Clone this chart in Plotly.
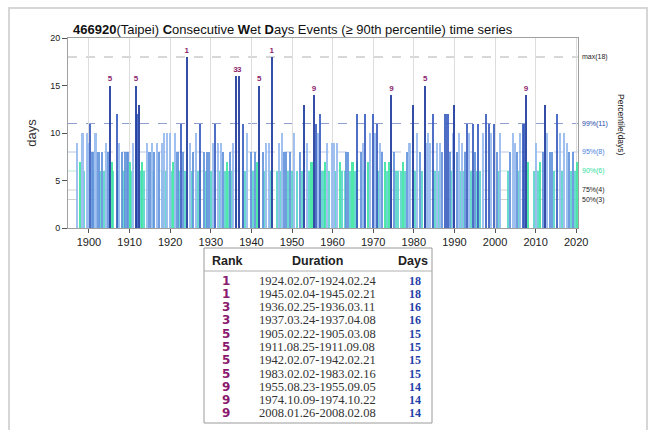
import plotly.graph_objects as go

# ---------------- data ----------------
event_year = [
    1897.1, 1897.9, 1898.4, 1898.8, 1899.4, 1899.8, 1900.2, 1900.7, 1900.9, 1901.1,
    1901.6, 1901.9, 1902.5, 1902.8, 1903.1, 1903.6, 1904.1, 1904.8, 1905.2, 1905.7,
    1905.9, 1906.8, 1907.1, 1907.5, 1908.2, 1908.5, 1908.9, 1909.3, 1909.7, 1910.1,
    1910.4, 1910.9, 1911.6, 1911.9, 1912.4, 1912.9, 1913.0, 1913.6, 1914.4, 1914.9,
    1915.4, 1915.8, 1916.1, 1916.7, 1917.3, 1917.9, 1918.1, 1918.5, 1919.0, 1919.3,
    1920.0, 1920.3, 1920.6, 1921.2, 1921.8, 1922.2, 1922.6, 1923.1, 1923.6, 1924.1,
    1924.9, 1925.3, 1925.7, 1926.4, 1926.9, 1927.3, 1928.3, 1928.7, 1929.0, 1929.6,
    1930.0, 1930.5, 1931.1, 1931.8, 1932.2, 1932.5, 1933.1, 1933.5, 1934.0, 1934.4,
    1934.8, 1935.1, 1935.5, 1936.1, 1937.0, 1938.0, 1938.4, 1939.0, 1939.8, 1940.3,
    1940.9, 1941.3, 1941.9, 1942.9, 1943.2, 1943.6, 1944.3, 1944.6, 1945.0, 1946.2,
    1946.9, 1947.1, 1947.5, 1948.0, 1948.5, 1949.1, 1949.5, 1950.1, 1950.6, 1951.3,
    1952.0, 1952.5, 1953.0, 1953.8, 1954.3, 1954.8, 1955.4, 1955.9, 1956.5, 1956.9,
    1957.3, 1957.8, 1958.1, 1958.7, 1959.2, 1959.8, 1960.3, 1960.7, 1961.0, 1961.8,
    1962.4, 1963.0, 1963.3, 1963.9, 1964.4, 1964.9, 1965.4, 1965.9, 1966.1, 1966.9,
    1967.4, 1967.8, 1968.0, 1968.6, 1969.2, 1969.9, 1970.4, 1970.9, 1971.3, 1971.7,
    1972.2, 1972.9, 1973.5, 1974.0, 1974.5, 1975.1, 1975.7, 1976.2, 1976.8, 1977.4,
    1977.9, 1978.4, 1978.7, 1979.1, 1979.7, 1980.3, 1980.9, 1981.5, 1981.9, 1982.8,
    1983.2, 1983.6, 1984.0, 1984.8, 1985.1, 1985.8, 1986.1, 1986.5, 1986.9, 1987.7,
    1988.3, 1988.9, 1989.2, 1989.6, 1990.0, 1990.6, 1991.2, 1991.5, 1991.8, 1992.1,
    1992.6, 1993.0, 1993.7, 1994.1, 1994.5, 1995.1, 1995.5, 1995.9, 1996.4, 1997.0,
    1997.8, 1998.4, 1998.9, 1999.8, 2000.4, 2000.9, 2001.2, 2003.3, 2003.7, 2004.5,
    2004.9, 2005.5, 2005.8, 2006.2, 2006.8, 2007.2, 2007.6, 2008.2, 2009.7, 2010.1,
    2010.6, 2011.1, 2011.7, 2012.4, 2012.9, 2013.5, 2014.0, 2014.6, 2015.2, 2016.0,
    2016.5, 2017.0, 2017.7, 2018.3, 2018.8, 2019.1, 2019.6, 2020.3,
]
event_days = [
    9, 7, 10, 6, 10, 9, 11, 8, 6, 8,
    10, 8, 8, 6, 8, 6, 9, 8, 15, 7,
    6, 12, 6, 9, 8, 6, 8, 8, 8, 7,
    6, 9, 15, 12, 13, 6, 7, 6, 9, 8,
    9, 6, 8, 9, 8, 9, 6, 10, 6, 10,
    10, 6, 7, 10, 8, 6, 11, 8, 6, 18,
    9, 6, 8, 10, 6, 11, 8, 6, 8, 8,
    6, 9, 11, 9, 6, 9, 8, 6, 7, 6,
    8, 6, 9, 16, 16, 11, 6, 10, 8, 6,
    8, 7, 15, 8, 6, 9, 9, 6, 18, 6,
    9, 6, 10, 8, 8, 6, 8, 6, 10, 6,
    8, 6, 13, 9, 6, 7, 14, 11, 10, 12,
    6, 6, 7, 9, 6, 9, 9, 6, 9, 7,
    6, 6, 8, 8, 6, 7, 6, 7, 12, 8,
    9, 6, 12, 7, 10, 12, 10, 11, 6, 9,
    8, 7, 6, 7, 14, 8, 6, 6, 6, 7,
    6, 8, 9, 9, 13, 6, 10, 8, 6, 15,
    9, 10, 9, 12, 6, 9, 6, 9, 8, 12,
    12, 8, 6, 10, 13, 8, 10, 6, 9, 6,
    8, 11, 10, 6, 11, 8, 6, 11, 6, 10,
    12, 11, 10, 11, 8, 6, 10, 6, 8, 10,
    9, 8, 6, 10, 11, 11, 14, 7, 6, 9,
    6, 7, 8, 13, 10, 8, 8, 6, 12, 10,
    6, 10, 9, 8, 6, 8, 6, 7,
]

# rank labels shown above the top events
rank_year = [1924.1, 1945.0, 1936.1, 1937.0, 1905.2, 1911.6, 1941.9, 1982.8, 1955.4, 1974.5, 2007.6]
rank_days = [18, 18, 16, 16, 15, 15, 15, 15, 14, 14, 14]
rank_text = ["1", "1", "3", "3", "5", "5", "5", "5", "9", "9", "9"]

# percentile reference levels
pct_values = [18, 11, 8, 6, 4, 3]
pct_labels = ["max(18)", "99%(11)", "95%(8)", "90%(6)", "75%(4)", "50%(3)"]
pct_colors = ["#222222", "#2446a8", "#4a7fe0", "#2fe0a0", "#222222", "#222222"]
pct_line_colors = ["#b0b0b0", "#8fa0d0", "#b8c8e8", "#b8e8d8", "#d0d0d0", "#d0d0d0"]

# table of top events
table_rank = ["1", "1", "3", "3", "5", "5", "5", "5", "9", "9", "9"]
table_duration = [
    "1924.02.07-1924.02.24", "1945.02.04-1945.02.21", "1936.02.25-1936.03.11",
    "1937.03.24-1937.04.08", "1905.02.22-1905.03.08", "1911.08.25-1911.09.08",
    "1942.02.07-1942.02.21", "1983.02.02-1983.02.16", "1955.08.23-1955.09.05",
    "1974.10.09-1974.10.22", "2008.01.26-2008.02.08",
]
table_days = ["18", "18", "16", "16", "15", "15", "15", "15", "14", "14", "14"]

x_ticks = list(range(1900, 2021, 10))
y_ticks = [0, 5, 10, 15, 20]

# ---------------- geometry helpers ----------------
L, R, T, B = 68, 578, 38, 228
W, H = 654, 430


def xp(px):
    return (px - L) / (R - L)


def yp(py):
    return (B - py) / (B - T)


def bar_color(d):
    if d >= 13:
        return "rgba(35,62,160,0.92)"
    if d >= 11:
        return "rgba(55,90,190,0.88)"
    if d >= 9:
        return "rgba(150,185,238,0.9)"
    if d >= 8:
        return "rgba(95,145,220,0.88)"
    if d >= 7:
        return "rgba(60,230,160,0.9)"
    return "rgba(80,212,200,0.85)"


# draw shorter events first so the tall ones stay visible
order = sorted(range(len(event_year)), key=lambda i: event_days[i])
bx = [event_year[i] for i in order]
by = [event_days[i] for i in order]
bc = [bar_color(d) for d in by]

fig = go.Figure()
fig.add_trace(go.Bar(x=bx, y=by, width=0.5, marker=dict(color=bc, line=dict(width=0)),
                     hoverinfo="x+y"))
fig.add_trace(go.Scatter(x=rank_year, y=[d + 0.65 for d in rank_days], mode="text",
                         text=["<b>" + t + "</b>" for t in rank_text], textposition="middle center",
                         textfont=dict(family="Liberation Sans", size=8, color="#8e1f6f")))

shapes = []
for v, lc in zip(pct_values, pct_line_colors):
    shapes.append(dict(type="line", xref="paper", yref="y", x0=0, x1=1, y0=v, y1=v,
                       line=dict(color=lc, width=1, dash="dash"), layer="below"))
# outer frame
shapes.append(dict(type="rect", xref="paper", yref="paper", x0=xp(9), x1=xp(647),
                   y0=yp(445), y1=yp(8), line=dict(color="#d6d6d6", width=2)))
# table frame
shapes.append(dict(type="rect", xref="paper", yref="paper", x0=xp(204), x1=xp(432),
                   y0=yp(423), y1=yp(248), line=dict(color="#9a9a9a", width=1)))
shapes.append(dict(type="line", xref="paper", yref="paper", x0=xp(204), x1=xp(432),
                   y0=yp(271), y1=yp(271), line=dict(color="#b0b0b0", width=1)))


def note(x, y, text, font, xanchor="center", yanchor="middle", **kw):
    d = dict(x=x, y=y, xref="paper", yref="paper", xanchor=xanchor, yanchor=yanchor,
             showarrow=False, text=text, font=font)
    d.update(kw)
    return d


ann = []
ann.append(note(xp(71), yp(29),
                "<b>466920</b>(Taipei) <b>C</b>onsecutive <b>W</b>et <b>D</b>ays Events (≥ 90th percentile) time series",
                dict(family="Liberation Sans", size=13, color="#111"), xanchor="left"))
for v, lab, c in zip(pct_values, pct_labels, pct_colors):
    ann.append(dict(x=xp(580), xref="paper", y=v, yref="y", xanchor="left", yanchor="middle",
                    showarrow=False, text=lab, font=dict(family="Liberation Sans", size=7, color=c)))
ann.append(note(xp(621), yp(125), "Percentile(days)",
                dict(family="Liberation Sans", size=8.5, color="#222"), textangle=90))

# table content
hdr_y = 261
for txt, cx in zip(["Rank", "Duration", "Days"], [227, 317, 413]):
    ann.append(note(xp(cx), yp(hdr_y), "<b>" + txt + "</b>",
                    dict(family="Liberation Sans", size=12.5, color="#222")))
for i in range(len(table_rank)):
    ry = 280.7 + 13.26 * i
    ann.append(note(xp(226), yp(ry), "<b>" + table_rank[i] + "</b>",
                    dict(family="DejaVu Sans", size=12, color="#8a1a6e")))
    ann.append(note(xp(317), yp(ry), table_duration[i],
                    dict(family="Liberation Serif", size=12.5, color="#333")))
    ann.append(note(xp(415), yp(ry), "<b>" + table_days[i] + "</b>",
                    dict(family="Liberation Serif", size=12, color="#1f3fa8")))

fig.update_layout(
    width=W, height=H,
    margin=dict(l=L, r=W - R, t=T, b=H - B, pad=0),
    plot_bgcolor="white", paper_bgcolor="white",
    showlegend=False, barmode="overlay", bargap=0,
    shapes=shapes, annotations=ann,
    xaxis=dict(range=[1894.83, 2020.44], tickvals=x_ticks, ticktext=[str(t) for t in x_ticks],
               ticks="outside", ticklen=4, tickcolor="#555", showgrid=True, gridcolor="#dddddd",
               gridwidth=1, showline=True, linecolor="#a0a0a0", linewidth=1, mirror=True,
               zeroline=False, tickfont=dict(family="Liberation Sans", size=11, color="#222"),
               tickprefix="<b>", ticksuffix="</b>"),
    yaxis=dict(range=[0, 20], tickvals=y_ticks, ticks="outside", ticklen=5, tickcolor="#555",
               showgrid=False, showline=True, linecolor="#a0a0a0", linewidth=1, mirror=True,
               zeroline=False, tickfont=dict(family="Liberation Sans", size=9, color="#222"),
               tickprefix="<b>", ticksuffix="</b>",
               title=dict(text="days", font=dict(family="Liberation Sans", size=13, color="#333"),
                          standoff=10)),
)

fig.write_html("out.html")
